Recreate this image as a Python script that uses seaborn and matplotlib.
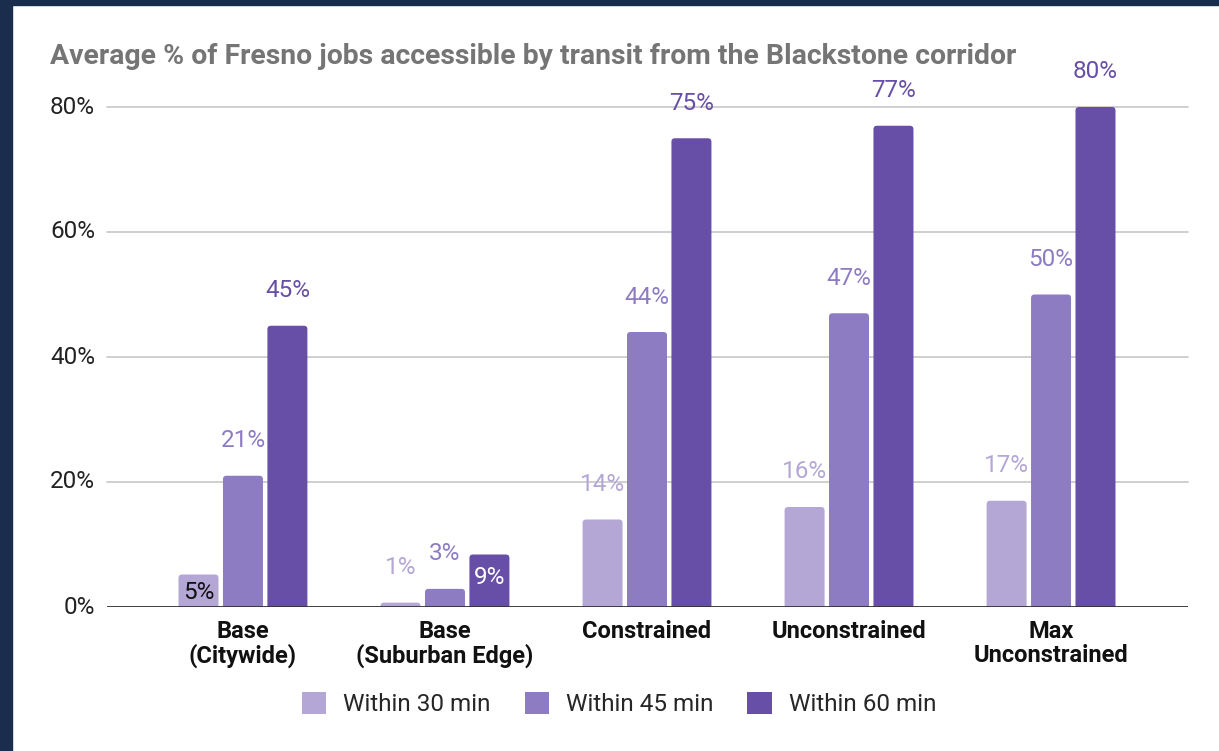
import matplotlib
matplotlib.use("Agg")
import matplotlib.pyplot as plt
import matplotlib.transforms as mtransforms
import seaborn as sns
import pandas as pd
from matplotlib.patches import Rectangle, FancyBboxPatch

categories = ["Base\n(Citywide)", "Base\n(Suburban Edge)", "Constrained", "Unconstrained", "Max\nUnconstrained"]
series = ["Within 30 min", "Within 45 min", "Within 60 min"]
within30 = [5.2, 0.7, 14.0, 16.0, 17.0]
within45 = [21.0, 2.9, 44.0, 47.0, 50.0]
within60 = [45.0, 8.4, 75.0, 77.0, 80.0]
labels30 = ["5%", "1%", "14%", "16%", "17%"]
labels45 = ["21%", "3%", "44%", "47%", "50%"]
labels60 = ["45%", "9%", "75%", "77%", "80%"]
yticks = [0, 20, 40, 60, 80]
ytick_labels = ["0%", "20%", "40%", "60%", "80%"]
colors = ["#b4a7d6", "#8e7cc3", "#674ea7"]
title = "Average % of Fresno jobs accessible by transit from the Blackstone corridor"

rows = []
for s, vals in zip(series, [within30, within45, within60]):
    for c, v in zip(categories, vals):
        rows.append({"category": c, "series": s, "value": v})
df = pd.DataFrame(rows)

sns.set_theme(style="white")
plt.rcParams["font.family"] = ["Roboto", "DejaVu Sans"]

W, H = 1219, 751
fig = plt.figure(figsize=(W / 100, H / 100), dpi=100)
fig.patch.set_facecolor("white")
# navy frame strips
fig.patches.append(Rectangle((0, 0), 12 / W, 1, transform=fig.transFigure, color="#1b2d4c", zorder=10))
fig.patches.append(Rectangle((0, 1 - 5 / H), 1, 5 / H, transform=fig.transFigure, color="#1b2d4c", zorder=10))

ymax = 82
px_per_y = 125 / 20
ax_bottom = 607
ax_top = 607 - ymax * px_per_y
xlim = (-0.673, 4.678)
ax_w_px = 1188 - 107
px_per_x = ax_w_px / (xlim[1] - xlim[0])
ax = fig.add_axes([107 / W, 1 - ax_bottom / H, ax_w_px / W, (ax_bottom - ax_top) / H])

sns.barplot(data=df, x="category", y="value", hue="series", order=categories, hue_order=series,
            palette=colors, width=0.66, gap=0.1, saturation=1, ax=ax, legend=False, zorder=3)

ax.set_xlim(*xlim)
ax.set_ylim(0, ymax)
ax.set_yticks(yticks)
ax.set_yticklabels([])
ax.set_xticks(range(len(categories)))
ax.set_xticklabels(categories, fontsize=17, fontweight="bold", color="#111111", linespacing=1.08)
ax.tick_params(axis="y", length=0)
ax.tick_params(axis="x", length=0, pad=9)
ax.set_xlabel("")
ax.set_ylabel("")
for sp in ax.spines.values():
    sp.set_visible(False)
for t in yticks[1:]:
    ax.axhline(t, color="#cccccc", lw=1.3, zorder=1, clip_on=False)
ax.axhline(0, color="#333333", lw=1.3, zorder=4)

# y tick labels, right-aligned at x = 95 px in the figure
trans = mtransforms.blended_transform_factory(fig.transFigure, ax.transData)
for t, lab in zip(yticks, ytick_labels):
    ax.text(95 / W, t, lab, transform=trans, ha="right", va="center", fontsize=17.5,
            color="#222222", clip_on=False)

# rounded tops on bars (bottom rounding hidden below the axis)
aspect = px_per_x / px_per_y
rad = 3.5 / px_per_x
for p in list(ax.patches):
    x0, y0 = p.get_x(), p.get_y()
    w, h = p.get_width(), p.get_height()
    fc = p.get_facecolor()
    p.set_visible(False)
    ext = 1.5
    fb = FancyBboxPatch((x0, y0 - ext), w, h + ext, boxstyle=f"round,pad=0,rounding_size={rad}",
                        mutation_aspect=aspect, facecolor=fc, edgecolor="none", lw=0, zorder=3,
                        clip_on=True)
    ax.add_patch(fb)

# data labels
offsets = [-0.22, 0.0, 0.22]
all_vals = [within30, within45, within60]
all_labels = [labels30, labels45, labels60]
for si in range(3):
    for ci in range(len(categories)):
        v = all_vals[si][ci]
        lab = all_labels[si][ci]
        x = ci + offsets[si]
        if si == 0 and ci == 0:
            ax.text(x, v - 2.9, lab, ha="center", va="center", fontsize=17.5, color="#111111", zorder=5)
        elif si == 2 and ci == 1:
            ax.text(x, v - 3.7, lab, ha="center", va="center", fontsize=17.5, color="white", zorder=5)
        else:
            ax.text(x, v + 5.6, lab, ha="center", va="center", fontsize=17.5, color=colors[si],
                    zorder=5, clip_on=False)

fig.text(50 / W, 1 - 57 / H, title, ha="left", va="center", fontsize=20.4, fontweight="bold", color="#757575")

handles = [Rectangle((0, 0), 1, 1, facecolor=c, edgecolor="none") for c in colors]
fig.legend(handles, series, loc="center", bbox_to_anchor=(619 / W, 1 - 704 / H), ncol=3, frameon=False,
           fontsize=17.5, handlelength=1.0, handleheight=1.0, handletextpad=0.7, columnspacing=1.4)

fig.savefig("out.png", dpi=100, facecolor="white")
